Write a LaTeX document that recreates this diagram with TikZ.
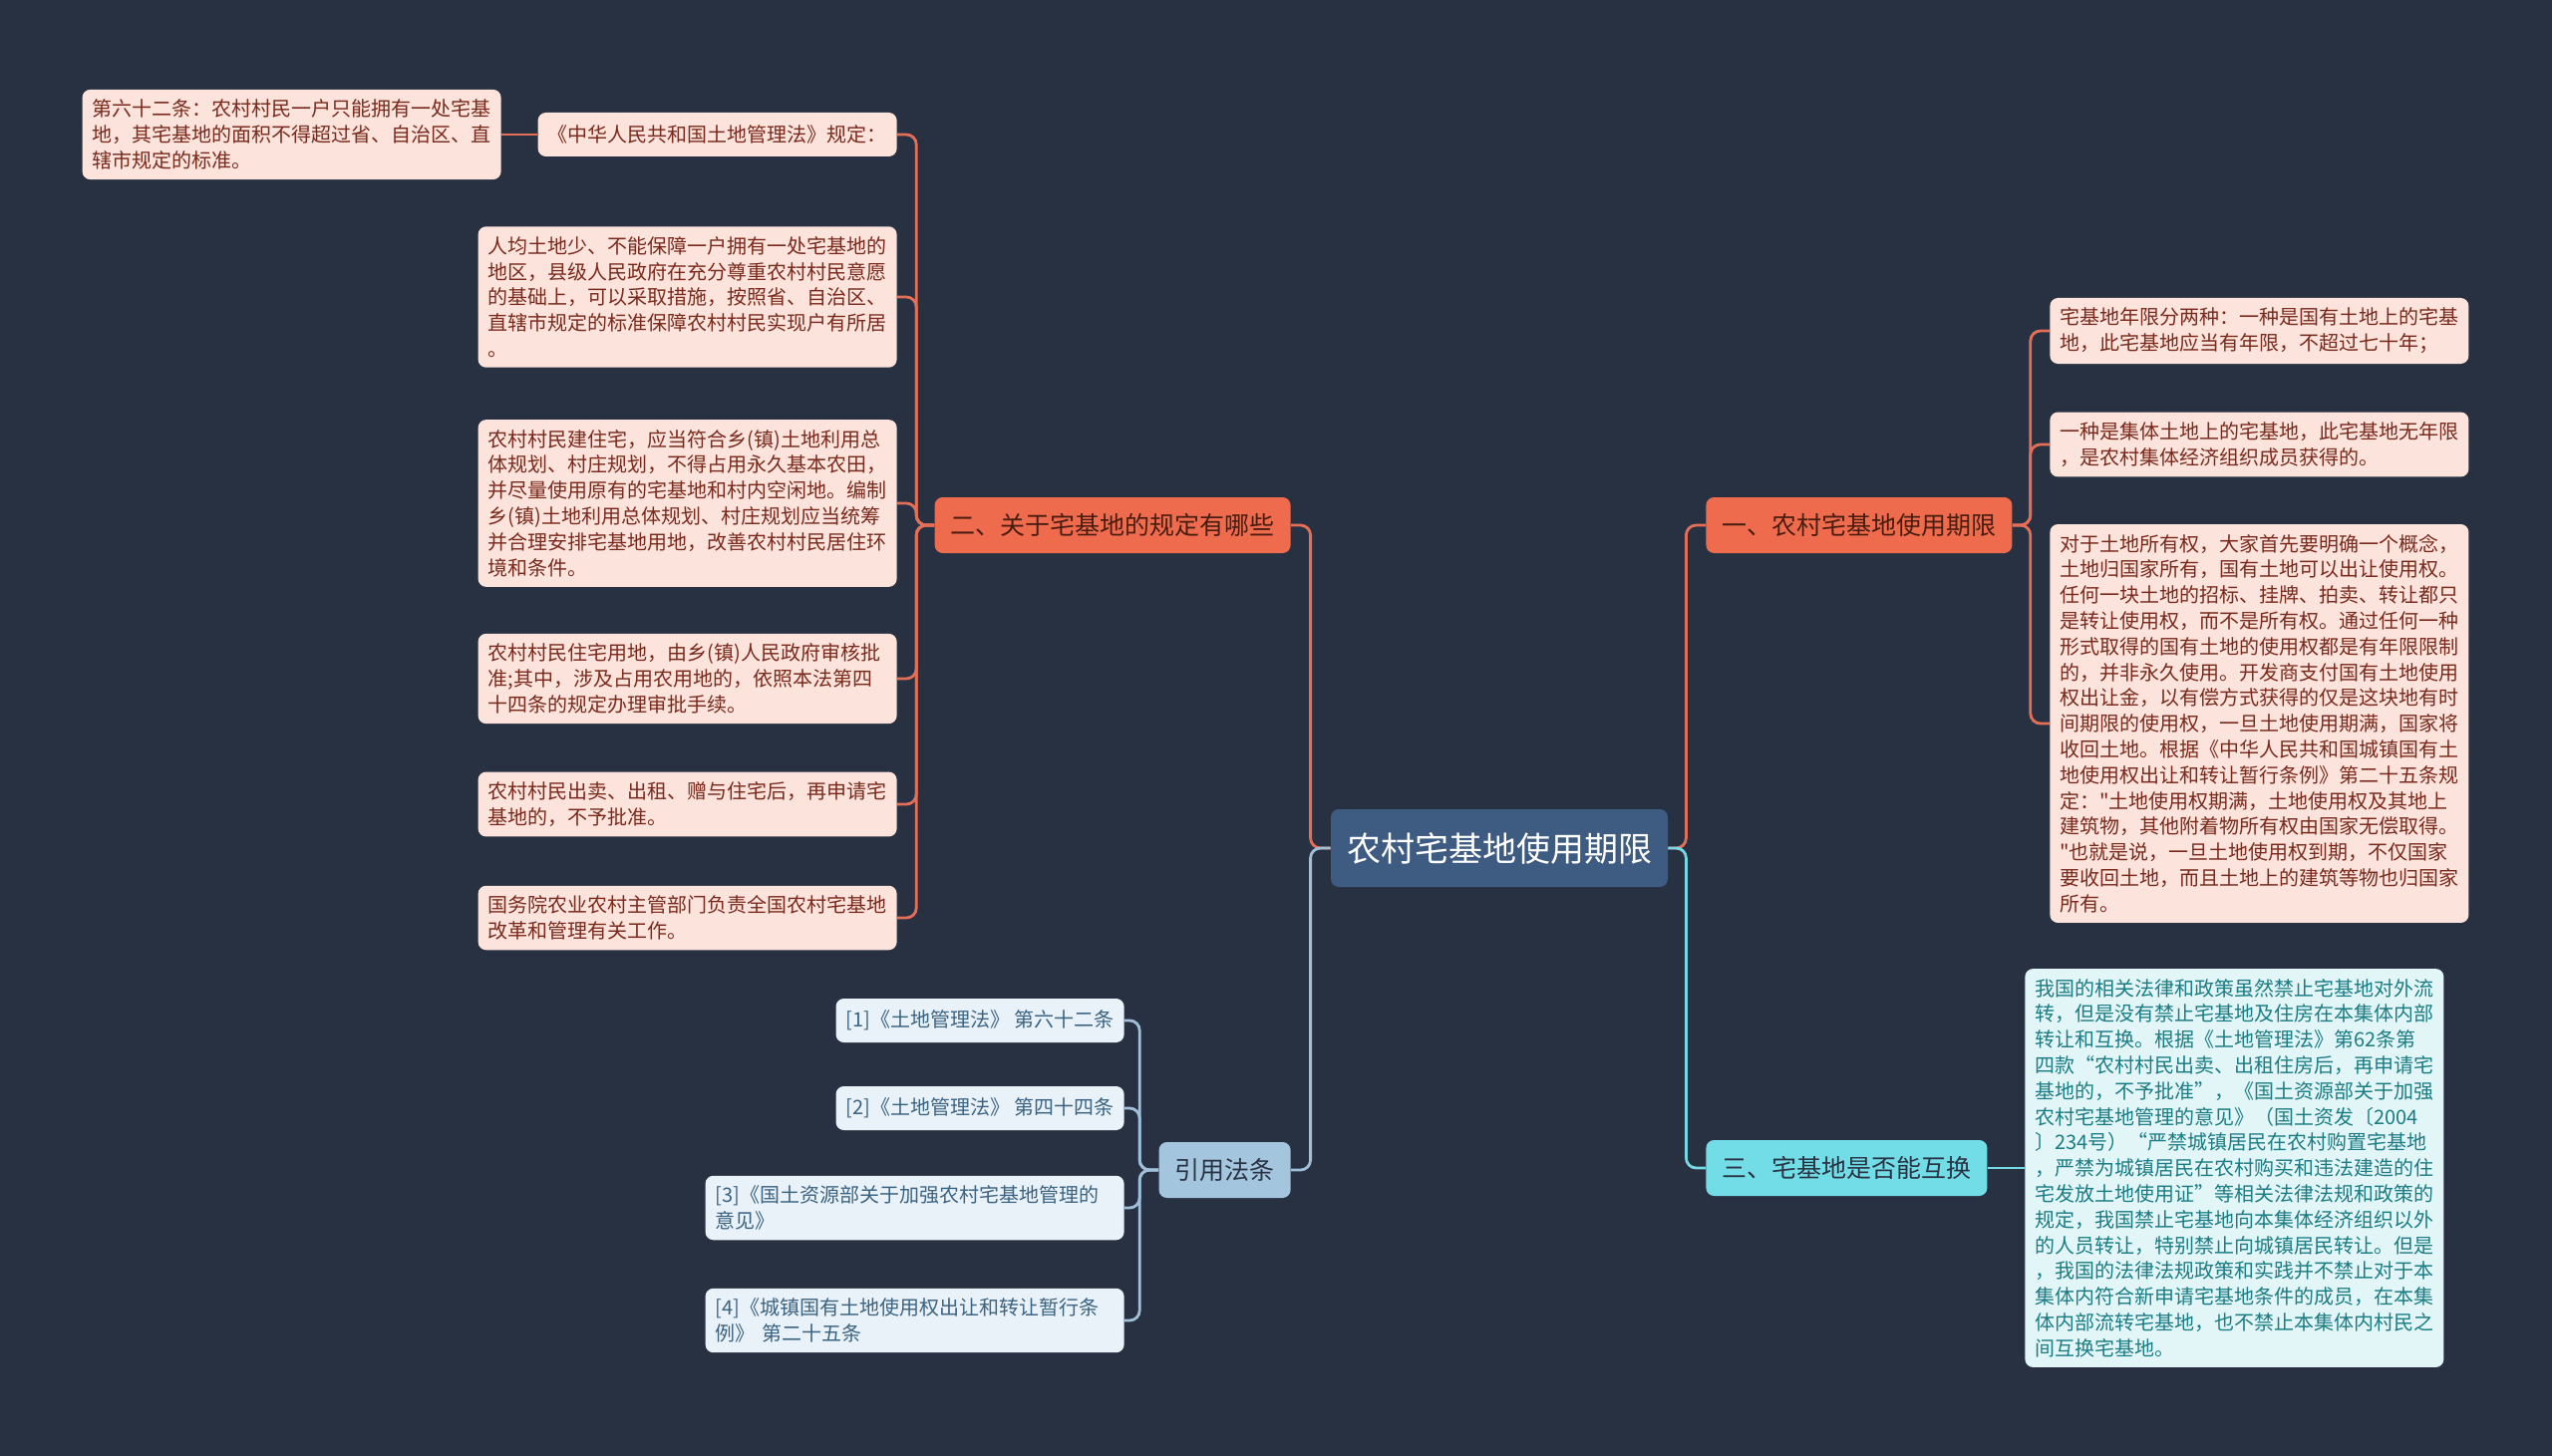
\documentclass[tikz,border=0pt]{standalone}
\usepackage{fontspec}
\setmainfont{Noto Sans CJK SC}[Ligatures=TeXOff]
\usetikzlibrary{calc}

\definecolor{bgnavy}{HTML}{283141}
\definecolor{rootblue}{HTML}{3E5B82}
\definecolor{hotfill}{HTML}{EE6B4D}
\definecolor{hotline}{HTML}{E46F58}
\definecolor{pinkleaf}{HTML}{FCE3DC}
\definecolor{pinktext}{HTML}{7A2A1C}
\definecolor{hottext}{HTML}{4A1D10}
\definecolor{cyanfill}{HTML}{72DDE6}
\definecolor{cyanline}{HTML}{74D9E3}
\definecolor{cyanleaf}{HTML}{E2F6F8}
\definecolor{cyantext}{HTML}{1B7C84}
\definecolor{citefill}{HTML}{A4C5DE}
\definecolor{citeline}{HTML}{9FC0D8}
\definecolor{citeleaf}{HTML}{E9F2F8}
\definecolor{citetext}{HTML}{3B6382}
\definecolor{darktext}{HTML}{2A3444}

\tikzset{
  root/.style={rounded corners=4pt, fill=rootblue, text=white,
    font=\fontsize{17pt}{20pt}\selectfont, inner xsep=8pt, minimum height=39pt},
  branch/.style={rounded corners=4pt, font=\fontsize{12.5pt}{15pt}\selectfont,
    inner xsep=8pt, minimum height=28pt},
  leaf/.style={rounded corners=4pt, font=\fontsize{10pt}{12.9pt}\selectfont,
    inner xsep=5pt, inner ysep=5pt, align=left},
  wide/.style={leaf, text width=200pt},
  link/.style={line width=1.4pt, rounded corners=5pt}
}

\begin{document}
\begin{tikzpicture}[x=0.5pt,y=-0.5pt]
\fill[bgnavy] (0,0) rectangle (2560,1461);

% Place the root
\node[root] (root) at (1504,851) {农村宅基地使用期限};

% Place the branches
\node[branch, fill=hotfill, text=hottext, anchor=east] (er) at (1295,527) {二、关于宅基地的规定有哪些};
\node[branch, fill=citefill, text=darktext, anchor=east] (yin) at (1295,1174) {引用法条};
\node[branch, fill=hotfill, text=hottext, anchor=west] (yi) at (1711,527) {一、农村宅基地使用期限};
\node[branch, fill=cyanfill, text=darktext, anchor=west] (san) at (1711,1172) {三、宅基地是否能互换};

% Leaves of branch two
\node[leaf, fill=pinkleaf, text=pinktext, anchor=east, minimum height=22pt] (gd) at (900,135) {《中华人民共和国土地管理法》规定：};
\node[wide, fill=pinkleaf, text=pinktext, anchor=east] (lt) at (503,135) {第六十二条：农村村民一户只能拥有一处宅基\\地，其宅基地的面积不得超过省、自治区、直\\辖市规定的标准。};
\node[wide, fill=pinkleaf, text=pinktext, anchor=east] (rj) at (900,298) {人均土地少、不能保障一户拥有一处宅基地的\\地区，县级人民政府在充分尊重农村村民意愿\\的基础上，可以采取措施，按照省、自治区、\\直辖市规定的标准保障农村村民实现户有所居\\。};
\node[wide, fill=pinkleaf, text=pinktext, anchor=east] (jz) at (900,505) {农村村民建住宅，应当符合乡(镇)土地利用总\\体规划、村庄规划，不得占用永久基本农田，\\并尽量使用原有的宅基地和村内空闲地。编制\\乡(镇)土地利用总体规划、村庄规划应当统筹\\并合理安排宅基地用地，改善农村村民居住环\\境和条件。};
\node[wide, fill=pinkleaf, text=pinktext, anchor=east] (zd) at (900,681) {农村村民住宅用地，由乡(镇)人民政府审核批\\准;其中，涉及占用农用地的，依照本法第四\\十四条的规定办理审批手续。};
\node[wide, fill=pinkleaf, text=pinktext, anchor=east] (cm) at (900,807) {农村村民出卖、出租、赠与住宅后，再申请宅\\基地的，不予批准。};
\node[wide, fill=pinkleaf, text=pinktext, anchor=east] (gw) at (900,921) {国务院农业农村主管部门负责全国农村宅基地\\改革和管理有关工作。};

% Leaves of branch one
\node[wide, fill=pinkleaf, text=pinktext, anchor=west] (nx) at (2056,332) {宅基地年限分两种：一种是国有土地上的宅基\\地，此宅基地应当有年限，不超过七十年；};
\node[wide, fill=pinkleaf, text=pinktext, anchor=west] (jt) at (2056,446) {一种是集体土地上的宅基地，此宅基地无年限\\，是农村集体经济组织成员获得的。};
\node[wide, fill=pinkleaf, text=pinktext, anchor=west] (syq) at (2056,726) {对于土地所有权，大家首先要明确一个概念，\\土地归国家所有，国有土地可以出让使用权。\\任何一块土地的招标、挂牌、拍卖、转让都只\\是转让使用权，而不是所有权。通过任何一种\\形式取得的国有土地的使用权都是有年限限制\\的，并非永久使用。开发商支付国有土地使用\\权出让金，以有偿方式获得的仅是这块地有时\\间期限的使用权，一旦土地使用期满，国家将\\收回土地。根据《中华人民共和国城镇国有土\\地使用权出让和转让暂行条例》第二十五条规\\定："土地使用权期满，土地使用权及其地上\\建筑物，其他附着物所有权由国家无偿取得。\\"也就是说，一旦土地使用权到期，不仅国家\\要收回土地，而且土地上的建筑等物也归国家\\所有。};

% Leaf of branch three
\node[wide, fill=cyanleaf, text=cyantext, anchor=west] (hh) at (2031,1172) {我国的相关法律和政策虽然禁止宅基地对外流\\转，但是没有禁止宅基地及住房在本集体内部\\转让和互换。根据《土地管理法》第62条第\\四款“农村村民出卖、出租住房后，再申请宅\\基地的，不予批准”，《国土资源部关于加强\\农村宅基地管理的意见》（国土资发〔2004\\〕234号）“严禁城镇居民在农村购置宅基地\\，严禁为城镇居民在农村购买和违法建造的住\\宅发放土地使用证”等相关法律法规和政策的\\规定，我国禁止宅基地向本集体经济组织以外\\的人员转让，特别禁止向城镇居民转让。但是\\，我国的法律法规政策和实践并不禁止对于本\\集体内符合新申请宅基地条件的成员，在本集\\体内部流转宅基地，也不禁止本集体内村民之\\间互换宅基地。};

% Leaves of the citations
\node[leaf, fill=citeleaf, text=citetext, anchor=east, minimum height=22pt] (ca) at (1128,1024) {[1]《土地管理法》 第六十二条};
\node[leaf, fill=citeleaf, text=citetext, anchor=east, minimum height=22pt] (cb) at (1128,1112) {[2]《土地管理法》 第四十四条};
\node[wide, fill=citeleaf, text=citetext, anchor=east] (cc) at (1128,1212) {[3]《国土资源部关于加强农村宅基地管理的\\意见》};
\node[wide, fill=citeleaf, text=citetext, anchor=east] (cd) at (1128,1325) {[4]《城镇国有土地使用权出让和转让暂行条\\例》 第二十五条};

% Draw root to branches
\draw[link, hotline] (root.east) -- ++(18,0) |- (yi.west);
\draw[link, cyanline] (root.east) -- ++(18,0) |- (san.west);
\draw[link, hotline] (root.west) -- ++(-20,0) |- (er.east);
\draw[link, citeline] (root.west) -- ++(-20,0) |- (yin.east);

% Draw branch two to its leaves
\draw[link, hotline] (er.west) -- ++(-18,0) |- (gd.east);
\draw[link, hotline] (er.west) -- ++(-18,0) |- (rj.east);
\draw[link, hotline] (er.west) -- ++(-18,0) |- (jz.east);
\draw[link, hotline] (er.west) -- ++(-18,0) |- (zd.east);
\draw[link, hotline] (er.west) -- ++(-18,0) |- (cm.east);
\draw[link, hotline] (er.west) -- ++(-18,0) |- (gw.east);
\draw[link, hotline] (gd.west) -- (lt.east);

% Draw branch one to its leaves
\draw[link, hotline] (yi.east) -- ++(18,0) |- (nx.west);
\draw[link, hotline] (yi.east) -- ++(18,0) |- (jt.west);
\draw[link, hotline] (yi.east) -- ++(18,0) |- (syq.west);

% Draw branch three to its leaf
\draw[link, cyanline] (san.east) -- (hh.west);

% Draw citations
\draw[link, citeline] (yin.west) -- ++(-19,0) |- (ca.east);
\draw[link, citeline] (yin.west) -- ++(-19,0) |- (cb.east);
\draw[link, citeline] (yin.west) -- ++(-19,0) |- (cc.east);
\draw[link, citeline] (yin.west) -- ++(-19,0) |- (cd.east);
\end{tikzpicture}
\end{document}
